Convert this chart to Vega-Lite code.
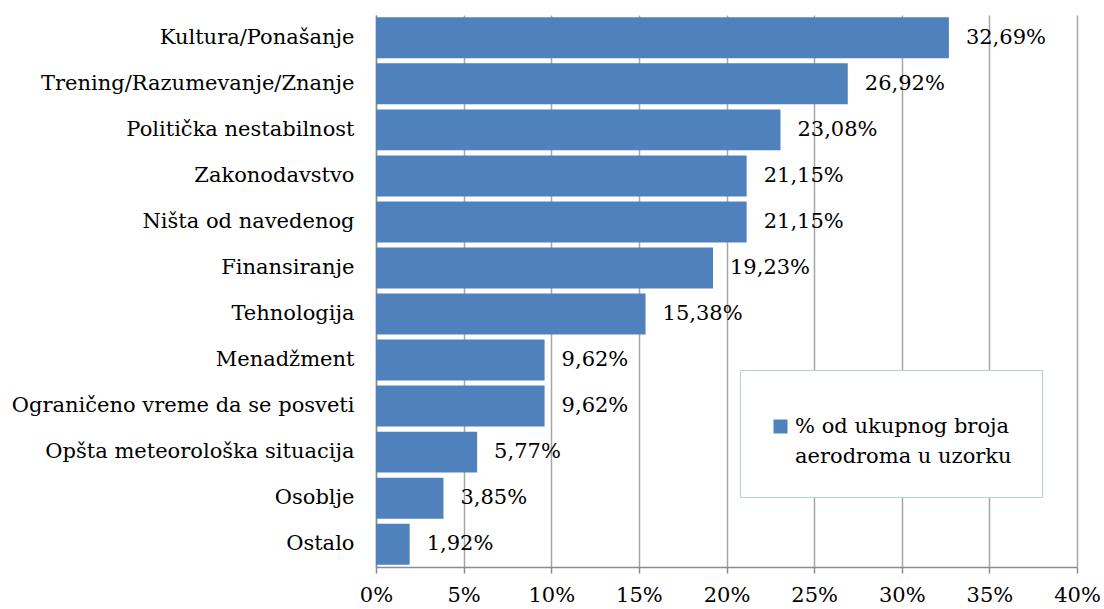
{
  "$schema": "https://vega.github.io/schema/vega-lite/v6.json",
  "width": 701,
  "height": 552,
  "autosize": {"type": "none"},
  "padding": {"left": 376, "top": 15, "right": 27, "bottom": 42},
  "background": "white",
  "config": {
    "locale": {"number": {"decimal": ",", "thousands": ".", "grouping": [3], "currency": ["", " €"]}},
    "view": {"stroke": null},
    "font": "DejaVu Serif",
    "style": {"guide-label": {"lineHeight": 30}}
  },
  "data": {
    "values": [
      {"kategorija": "Kultura/Ponašanje", "vrednost": 0.3269, "serija": "% od ukupnog broja aerodroma u uzorku"},
      {"kategorija": "Trening/Razumevanje/Znanje", "vrednost": 0.2692, "serija": "% od ukupnog broja aerodroma u uzorku"},
      {"kategorija": "Politička nestabilnost", "vrednost": 0.2308, "serija": "% od ukupnog broja aerodroma u uzorku"},
      {"kategorija": "Zakonodavstvo", "vrednost": 0.2115, "serija": "% od ukupnog broja aerodroma u uzorku"},
      {"kategorija": "Ništa od navedenog", "vrednost": 0.2115, "serija": "% od ukupnog broja aerodroma u uzorku"},
      {"kategorija": "Finansiranje", "vrednost": 0.1923, "serija": "% od ukupnog broja aerodroma u uzorku"},
      {"kategorija": "Tehnologija", "vrednost": 0.1538, "serija": "% od ukupnog broja aerodroma u uzorku"},
      {"kategorija": "Menadžment", "vrednost": 0.0962, "serija": "% od ukupnog broja aerodroma u uzorku"},
      {"kategorija": "Ograničeno vreme da se posveti", "vrednost": 0.0962, "serija": "% od ukupnog broja aerodroma u uzorku"},
      {"kategorija": "Opšta meteorološka situacija", "vrednost": 0.0577, "serija": "% od ukupnog broja aerodroma u uzorku"},
      {"kategorija": "Osoblje", "vrednost": 0.0385, "serija": "% od ukupnog broja aerodroma u uzorku"},
      {"kategorija": "Ostalo", "vrednost": 0.0192, "serija": "% od ukupnog broja aerodroma u uzorku"}
    ]
  },
  "encoding": {
    "y": {
      "field": "kategorija", "type": "nominal", "sort": null,
      "scale": {"paddingInner": 0.11, "paddingOuter": 0.05},
      "axis": {
        "title": null, "ticks": false, "domain": true, "domainColor": "#8c8c8c", "domainWidth": 1.5,
        "labelFont": "DejaVu Serif", "labelFontSize": 21, "labelColor": "black",
        "labelPadding": 22, "labelLimit": 400, "grid": false
      }
    },
    "x": {
      "field": "vrednost", "type": "quantitative",
      "scale": {"domain": [0, 0.4], "nice": false},
      "axis": {
        "title": null, "format": ".0%",
        "values": [0, 0.05, 0.1, 0.15, 0.2, 0.25, 0.3, 0.35, 0.4],
        "grid": true, "gridColor": "#a6a6a6", "gridWidth": 1.5,
        "domainColor": "#8c8c8c", "domainWidth": 1.5,
        "tickColor": "#8c8c8c", "tickWidth": 1.5, "tickSize": 6,
        "labelFont": "DejaVu Serif", "labelFontSize": 21, "labelColor": "black",
        "labelPadding": 11, "labelFlush": false
      }
    }
  },
  "layer": [
    {
      "mark": {"type": "bar", "color": "#4f81bd"},
      "encoding": {
        "color": {
          "field": "serija", "type": "nominal",
          "scale": {"range": ["#4f81bd"]},
          "legend": {
            "title": " ", "titleFontSize": 8, "titlePadding": 8,
            "orient": "none", "legendX": 364, "legendY": 355,
            "padding": 30, "strokeColor": "#b8cce4", "fillColor": "white",
            "symbolType": "square", "symbolSize": 196, "symbolStrokeWidth": 0,
            "labelFont": "DejaVu Serif", "labelFontSize": 21, "labelColor": "black",
            "labelLimit": 400, "labelOffset": 4,
            "labelExpr": "['% od ukupnog broja', 'aerodroma u uzorku']"
          }
        }
      }
    },
    {
      "mark": {"type": "text", "align": "left", "baseline": "middle", "dx": 17, "font": "DejaVu Serif", "fontSize": 21, "color": "black"},
      "encoding": {
        "text": {"field": "vrednost", "type": "quantitative", "format": ".2%"}
      }
    }
  ]
}
